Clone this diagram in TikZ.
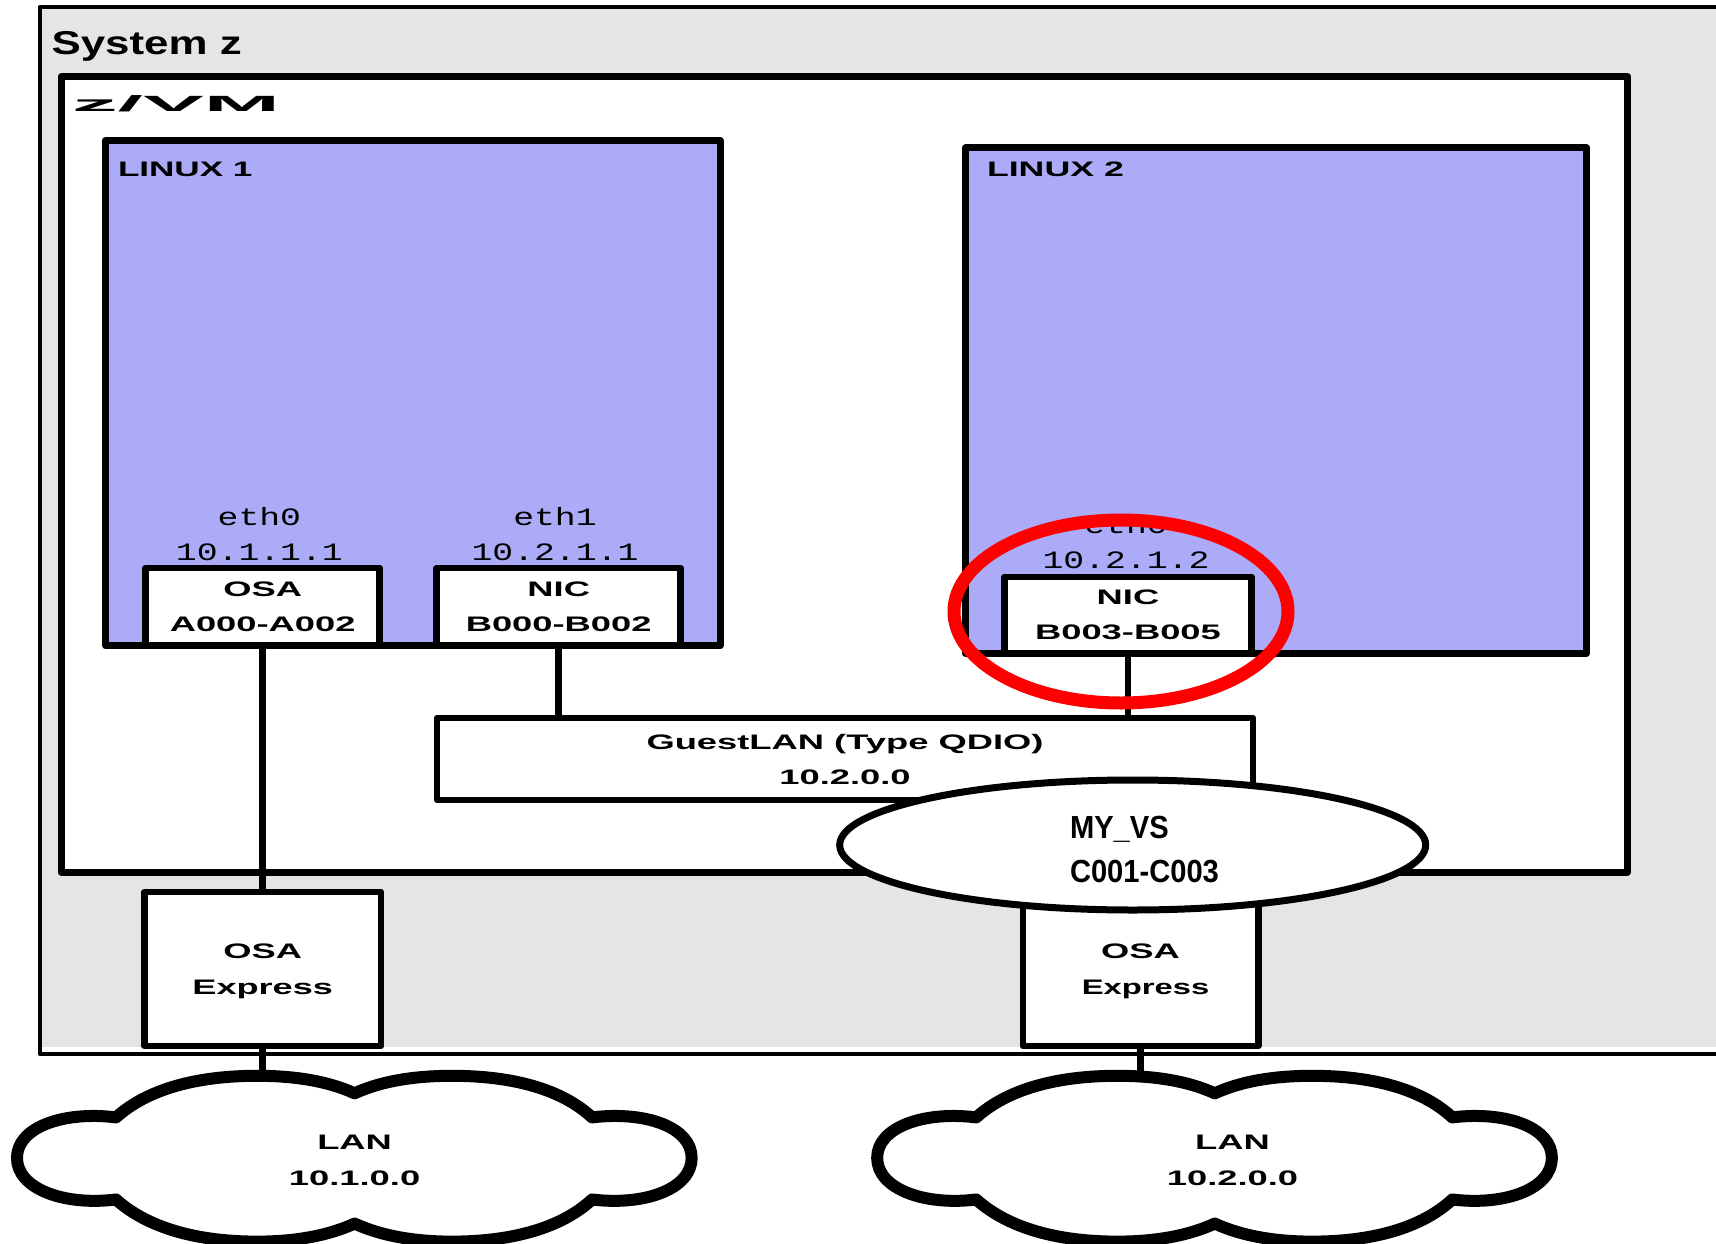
\documentclass[tikz,border=0pt]{standalone}
\usepackage{fontspec}
\usepackage{graphicx}
\usetikzlibrary{shapes.geometric}
\setmainfont{Liberation Sans}
\newfontfamily\monof{Liberation Mono}
\definecolor{lilac}{HTML}{ABABF8}
\definecolor{sysgray}{HTML}{E5E5E5}
\newcommand{\Wd}[1]{\scalebox{1.73}[1]{#1}}
\newcommand{\Mn}[1]{\scalebox{1.39}[1]{#1}}
\newcommand{\cloudshape}{(106,1021) .. controls (135,995) and (180,983) .. (235,983) .. controls (270,983) and (300,988) .. (324,999)
 .. controls (348,988) and (378,983) .. (413,983) .. controls (468,983) and (513,995) .. (541,1021)
 .. controls (590,1015) and (632,1030) .. (632,1058) .. controls (632,1086) and (590,1102) .. (541,1096)
 .. controls (513,1122) and (468,1134.5) .. (413,1134.5) .. controls (378,1134.5) and (348,1129) .. (324,1118)
 .. controls (300,1129) and (270,1134.5) .. (235,1134.5) .. controls (180,1134.5) and (135,1122) .. (106,1096)
 .. controls (58,1102) and (15.5,1086) .. (15.5,1058) .. controls (15.5,1030) and (58,1015) .. (106,1021) -- cycle}
\tikzset{
 every node/.style={inner sep=0pt,outer sep=0pt},
 heavy/.style={draw=black,line width=7pt,line join=round},
 guest/.style={heavy,fill=lilac},
 boxnode/.style={draw=black,line width=6.5pt,line join=round,fill=white,rectangle,
   align=center,font=\fontsize{21}{35}\selectfont\bfseries},
 ifacelabel/.style={align=center,font=\fontsize{25}{35}\selectfont\monof},
 title/.style={anchor=base west,font=\fontsize{21}{25}\selectfont\bfseries},
 wire/.style={draw=black,line width=6.5pt},
 cloudline/.style={draw=black,fill=white,line width=12pt,line join=round},
 lanlabel/.style={align=center,font=\fontsize{21}{36}\selectfont\bfseries},
 vslabel/.style={anchor=base west,font=\fontsize{32}{36}\selectfont\bfseries}
}
\begin{document}
\begin{tikzpicture}[x=1pt,y=-1pt]
\useasboundingbox (0,0) rectangle (1716,1244);
\clip (0,0) rectangle (1716,1244);
\fill[white] (0,0) rectangle (1716,1244);
% System z
\fill[sysgray] (40,7) rectangle (1740,1047);
\draw[black,line width=4.5pt,line join=round] (40,7) rectangle (1740,1054);
\node[anchor=base west,font=\fontsize{33}{36}\selectfont\bfseries] (sysname) at (51.5,55) {\scalebox{1.33}[1]{System z}};
% z/VM
\draw[heavy,fill=white] (61,76.5) rectangle (1627.5,872);
\node[anchor=base west,font=\fontsize{22}{26}\selectfont\bfseries] (vmname) at (72,112) {\scalebox{4.15}[1]{z/VM}};
% Linux guests
\draw[guest] (105.5,140.5) rectangle (720,645.7);
\draw[guest] (965.5,147.7) rectangle (1586.5,653.4);
\node[title] (l1name) at (118,176) {\scalebox{1.67}[1]{LINUX 1}};
\node[title] (l2name) at (987,176) {\scalebox{1.7}[1]{LINUX 2}};
\node[ifacelabel] (if1) at (259.4,534) {\Mn{eth0}\\\Mn{10.1.1.1}};
\node[ifacelabel] (if2) at (555,534) {\Mn{eth1}\\\Mn{10.2.1.1}};
\node[ifacelabel] (if3) at (1126,541.7) {\Mn{eth0}\\\Mn{10.2.1.2}};
% Device boxes
\node[boxnode,minimum width=234pt,minimum height=77.7pt] (osa) at (262.7,606.8) {\Wd{OSA}\\\Wd{A000-A002}};
\node[boxnode,minimum width=244pt,minimum height=77.7pt] (nicb) at (558.7,606.8) {\Wd{NIC}\\\Wd{B000-B002}};
\node[boxnode,minimum width=247pt,minimum height=76.6pt] (nicc) at (1128,615.1) {\Wd{NIC}\\\Wd{B003-B005}};
\node[boxnode,minimum width=816.3pt,minimum height=82pt] (glan) at (845,759) {\Wd{GuestLAN (Type QDIO)}\\\Wd{10.2.0.0}};
\node[boxnode,minimum width=236.5pt,minimum height=154pt] (oe1) at (262.7,969) {};
\node[boxnode,minimum width=235.5pt,minimum height=156pt] (oe2) at (1140.7,968) {};
\node[lanlabel] (oe1t) at (262.7,971.5) {\Wd{OSA}\\\scalebox{1.72}[1]{Express}};
\node[lanlabel] (oe2t) at (1145.5,971.5) {\hspace*{-10pt}\Wd{OSA}\\\scalebox{1.56}[1]{Express}};
% Cloud attachment points
\coordinate (c1top) at (262.7,1080);
\coordinate (c2top) at (1140.7,1080);
% Connectors
\draw[wire] (osa.south) -- (oe1.north);
\draw[wire] (nicb.south) -- (nicb.south |- glan.north);
\draw[wire] (nicc.south) -- (nicc.south |- glan.north);
\draw[wire] (oe1.south) -- (c1top);
\draw[wire] (oe2.south) -- (c2top);
% Clouds
\begin{scope}[xscale=1.0944,yscale=1.0944]
\draw[cloudline] \cloudshape;
\end{scope}
\begin{scope}[xshift=860.2pt,xscale=1.0944,yscale=1.0944]
\draw[cloudline] \cloudshape;
\end{scope}
\node[lanlabel] (lan1) at (354.6,1160) {\Wd{LAN}\\\Wd{10.1.0.0}};
\node[lanlabel] (lan2) at (1232.5,1160) {\Wd{LAN}\\\Wd{10.2.0.0}};
% MY_VS ellipse
\node[ellipse,draw=black,fill=white,line width=7pt,minimum width=586pt,minimum height=130pt] (vs) at (1132.7,845) {};
\node[vslabel] (vs1) at (1070,838) {\scalebox{0.91}[1]{MY\_VS}};
\node[vslabel] (vs2) at (1070,882.5) {\scalebox{0.91}[1]{C001-C003}};
% Red highlight
\node[ellipse,draw=red,line width=13pt,minimum width=334pt,minimum height=183pt] (mark) at (1121,611.5) {};
\end{tikzpicture}
\end{document}
